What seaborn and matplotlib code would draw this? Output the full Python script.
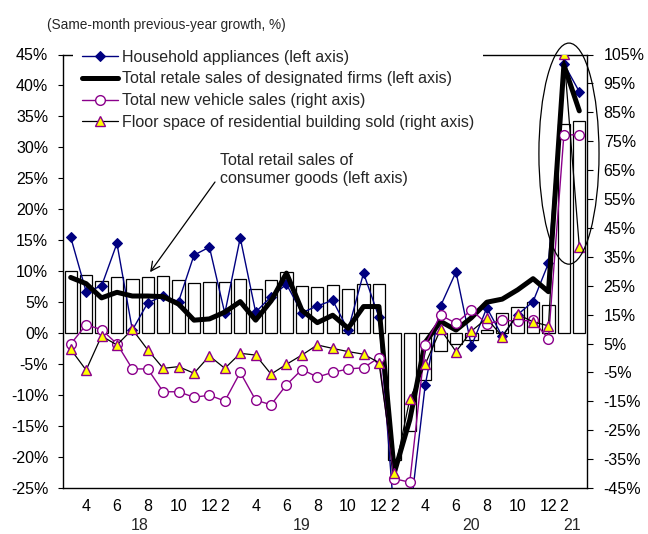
import matplotlib
matplotlib.use("Agg")
import matplotlib.pyplot as plt
from matplotlib.patches import Ellipse
import numpy as np
import pandas as pd
import seaborn as sns

# Monthly observations, Mar 2018 - Mar 2021 (January is merged into the Jan-Feb figure, labelled 2)
months = [3, 4, 5, 6, 7, 8, 9, 10, 11, 12,
          2, 3, 4, 5, 6, 7, 8, 9, 10, 11, 12,
          2, 3, 4, 5, 6, 7, 8, 9, 10, 11, 12,
          2, 3]
years = ["18"] * 10 + ["19"] * 11 + ["20"] * 11 + ["21"] * 2

# Left axis series (%)
retail_consumer_goods = [10.1, 9.4, 8.5, 9.0, 8.8, 9.0, 9.2, 8.6, 8.1, 8.2,
                         8.2, 8.7, 7.2, 8.6, 9.8, 7.6, 7.5, 7.8, 7.2, 8.0, 8.0,
                         -20.5, -15.8, -7.5, -2.8, -1.8, -1.1, 0.5, 3.3, 4.3, 5.0, 4.6,
                         33.8, 34.2]
designated_firms = [9.0, 8.0, 5.7, 6.6, 6.0, 6.0, 5.9, 4.7, 2.1, 2.3,
                    3.4, 5.1, 2.1, 5.2, 9.7, 3.7, 1.7, 2.9, 0.8, 4.3, 4.3,
                    -22.5, -14.0, -1.5, 1.9, 0.5, 2.5, 5.0, 5.5, 7.0, 8.8, 6.7,
                    43.3, 35.9]
household_appliances = [15.5, 6.7, 7.6, 14.5, 0.5, 4.9, 6.0, 5.1, 12.6, 13.9,
                        3.2, 15.4, 3.4, 5.9, 7.9, 3.3, 4.4, 5.3, 0.5, 9.7, 2.6,
                        -30.0, -29.7, -8.4, 4.4, 9.9, -2.1, 4.1, -0.5, 3.0, 5.1, 11.3,
                        43.5, 39.0]

# Right axis series (%)
new_vehicle_sales = [4.8, 11.5, 9.8, 4.9, -3.8, -3.8, -11.7, -11.7, -13.6, -12.9,
                     -14.9, -5.0, -14.6, -16.2, -9.3, -4.0, -6.6, -5.0, -3.8, -3.4, 0.1,
                     -41.8, -43.0, 4.6, 14.8, 12.0, 16.6, 11.8, 13.0, 12.8, 13.0, 6.6,
                     77.2, 77.2]
residential_floor_space = [3.0, -4.2, 7.6, 4.5, 9.9, 2.8, -3.6, -3.0, -5.3, 0.7,
                           -3.6, 1.6, 1.0, -5.6, -2.2, 1.0, 4.5, 3.3, 2.2, 1.3, -1.6,
                           -39.9, -14.3, -2.2, 9.9, 2.2, 9.3, 13.7, 7.4, 15.1, 12.5, 11.1,
                           105.2, 38.5]

left_ticks = list(range(-25, 50, 5))
right_ticks = list(range(-45, 115, 10))

legend_labels = ["Household appliances (left axis)",
                 "Total retale sales of designated firms (left axis)",
                 "Total new vehicle sales (right axis)",
                 "Floor space of residential building sold (right axis)"]

sns.set_style("white")
plt.rcParams["font.family"] = ["Liberation Sans", "DejaVu Sans"]

FS = 11.5
W, H = 648, 534
NAVY = "#000080"
PURPLE = "#8B008B"

df = pd.DataFrame({
    "pos": np.arange(len(months)),
    "retail": retail_consumer_goods,
    "designated": designated_firms,
    "appliances": household_appliances,
    "vehicles": new_vehicle_sales,
    "floor": residential_floor_space,
})

fig = plt.figure(figsize=(W / 100, H / 100), dpi=100)
ax = fig.add_axes([63 / W, 46 / H, 524 / W, 433.5 / H])
ax2 = ax.twinx()

# Bars: retail sales of consumer goods
sns.barplot(data=df, x="pos", y="retail", native_scale=True, color="white",
            edgecolor="black", linewidth=0.9, width=0.8, saturation=1,
            errorbar=None, ax=ax, zorder=1)

# Left-axis lines
sns.lineplot(data=df, x="pos", y="appliances", ax=ax, color=NAVY, lw=1.0,
             marker="D", markersize=5.5, markerfacecolor=NAVY,
             markeredgecolor=NAVY, errorbar=None, legend=False, zorder=3)
appl_line = ax.lines[-1]
sns.lineplot(data=df, x="pos", y="designated", ax=ax, color="black", lw=3.6,
             errorbar=None, legend=False, zorder=4)
desig_line = ax.lines[-1]

# Right-axis lines
sns.lineplot(data=df, x="pos", y="vehicles", ax=ax2, color=PURPLE, lw=1.0,
             marker="o", markersize=7, markerfacecolor="white",
             markeredgecolor=PURPLE, markeredgewidth=1.0, errorbar=None,
             legend=False, zorder=3)
veh_line = ax2.lines[-1]
sns.lineplot(data=df, x="pos", y="floor", ax=ax2, color="black", lw=0.9,
             marker="^", markersize=7, markerfacecolor="#FFFF00",
             markeredgecolor=PURPLE, markeredgewidth=1.0, errorbar=None,
             legend=False, zorder=4)
floor_line = ax2.lines[-1]

# Axes limits and ticks
ax.set_xlim(-0.5, len(months) - 0.5)
ax.set_ylim(left_ticks[0], left_ticks[-1])
ax2.set_ylim(right_ticks[0], right_ticks[-1])
ax.set_yticks(left_ticks)
ax.set_yticklabels([f"{t}%" for t in left_ticks])
ax2.set_yticks(right_ticks)
ax2.set_yticklabels([f"{t}%" for t in right_ticks])

tick_pos = [i for i, m in enumerate(months) if m % 2 == 0]
ax.set_xticks(tick_pos)
ax.set_xticklabels([str(months[i]) for i in tick_pos])
ax.set_xlabel("")
ax.set_ylabel("")
ax2.set_ylabel("")
ax.grid(False)
ax2.grid(False)

ax.tick_params(axis="x", length=0, pad=8, labelsize=FS, colors="black")
ax.tick_params(axis="y", left=True, direction="out", length=3.6, width=0.8,
               pad=7, labelsize=FS, colors="black")
ax2.tick_params(axis="y", right=True, direction="out", length=4, width=0.8,
                pad=8, labelsize=FS, colors="black")

for side in ["top", "left", "bottom"]:
    ax.spines[side].set_visible(True)
    ax.spines[side].set_color("black")
    ax.spines[side].set_linewidth(1.0)
ax.spines["right"].set_visible(False)
for side in ["top", "left", "bottom"]:
    ax2.spines[side].set_visible(False)
ax2.spines["right"].set_color("black")
ax2.spines["right"].set_linewidth(1.0)

# Year labels under the month labels
for yr in dict.fromkeys(years):
    idx = [i for i, y in enumerate(years) if y == yr]
    ax.annotate(yr, xy=(np.mean(idx), 0), xycoords=("data", "axes fraction"),
                xytext=(0, -37), textcoords="offset pixels", ha="center",
                va="center", fontsize=FS, annotation_clip=False)

# Callout for the bars
fig.text(220 / W, 1 - 160 / H, "Total retail sales of", fontsize=FS, va="center")
fig.text(220 / W, 1 - 179 / H, "consumer goods (left axis)", fontsize=FS, va="center")
ax.annotate("", xy=(5.15, 9.85), xycoords="data",
            xytext=(215, H - 182), textcoords="figure pixels",
            arrowprops=dict(arrowstyle="->", lw=0.9, color="black",
                            shrinkA=0, shrinkB=0, mutation_scale=16))

# Highlight ring around the 2021 readings
ax2.add_patch(Ellipse((32.33, 70.7), 3.9, 76.5, fill=False, ec="black",
                      lw=0.9, clip_on=False, zorder=6))

# Subtitle
fig.text(47 / W, 1 - 25 / H, "(Same-month previous-year growth, %)",
         fontsize=9.8, va="center")

# Legend
leg = ax2.legend([appl_line, desig_line, veh_line, floor_line], legend_labels,
                 loc="upper left", bbox_to_anchor=(73 / W, 1 - 41 / H),
                 bbox_transform=fig.transFigure, frameon=True,
                 facecolor="white", edgecolor="none", framealpha=1,
                 fancybox=False, borderpad=0.55, handlelength=2.25,
                 handletextpad=0.25, labelspacing=0.42, fontsize=FS,
                 borderaxespad=0)
leg.set_zorder(10)

fig.savefig("out.png", dpi=100)
